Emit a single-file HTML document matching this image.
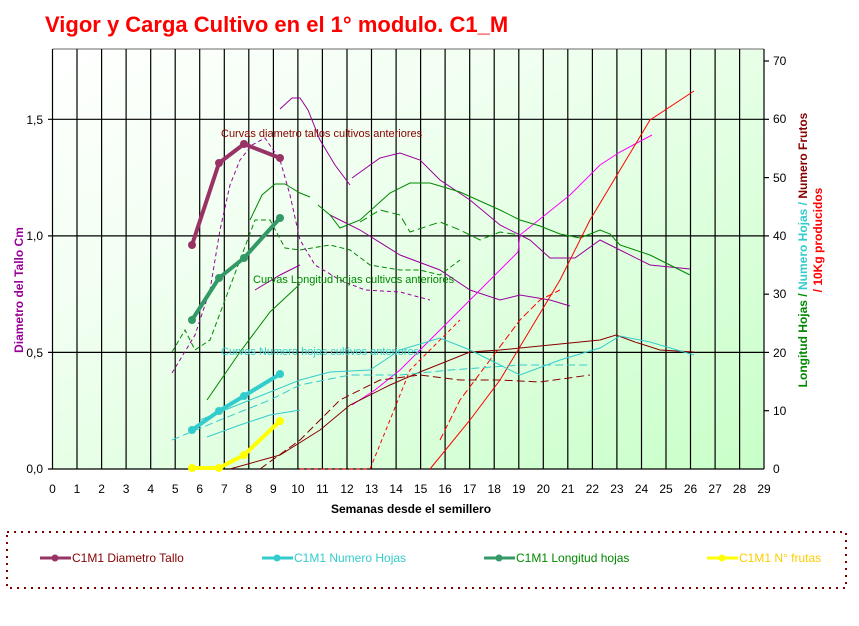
<!DOCTYPE html>
<html><head><meta charset="utf-8"><style>
html,body{margin:0;padding:0;background:#fff;}
svg{display:block;font-family:"Liberation Sans",sans-serif;}
</style></head><body>
<svg width="859" height="626" viewBox="0 0 859 626" xmlns="http://www.w3.org/2000/svg">
<defs>
<linearGradient id="bg" x1="0" y1="0" x2="1" y2="1">
<stop offset="0" stop-color="#ffffff"/><stop offset="0.35" stop-color="#f0fff0"/><stop offset="1" stop-color="#c8ffc8"/>
</linearGradient>
</defs>
<text x="45" y="32" font-size="22" font-weight="bold" fill="#ff0000">Vigor y Carga Cultivo en el 1° modulo. C1_M</text>
<rect x="52.5" y="49" width="711.5" height="420" fill="url(#bg)"/>
<g stroke="#000" stroke-width="1.2">
<line x1="52.5" y1="49" x2="764" y2="49" stroke="#888"/>
<line x1="77" y1="49" x2="77" y2="469"/><line x1="101.6" y1="49" x2="101.6" y2="469"/><line x1="126.1" y1="49" x2="126.1" y2="469"/><line x1="150.7" y1="49" x2="150.7" y2="469"/><line x1="175.2" y1="49" x2="175.2" y2="469"/><line x1="199.7" y1="49" x2="199.7" y2="469"/><line x1="224.3" y1="49" x2="224.3" y2="469"/><line x1="248.8" y1="49" x2="248.8" y2="469"/><line x1="273.4" y1="49" x2="273.4" y2="469"/><line x1="297.9" y1="49" x2="297.9" y2="469"/><line x1="322.4" y1="49" x2="322.4" y2="469"/><line x1="347" y1="49" x2="347" y2="469"/><line x1="371.5" y1="49" x2="371.5" y2="469"/><line x1="396.1" y1="49" x2="396.1" y2="469"/><line x1="420.6" y1="49" x2="420.6" y2="469"/><line x1="445.1" y1="49" x2="445.1" y2="469"/><line x1="469.7" y1="49" x2="469.7" y2="469"/><line x1="494.2" y1="49" x2="494.2" y2="469"/><line x1="518.8" y1="49" x2="518.8" y2="469"/><line x1="543.3" y1="49" x2="543.3" y2="469"/><line x1="567.8" y1="49" x2="567.8" y2="469"/><line x1="592.4" y1="49" x2="592.4" y2="469"/><line x1="616.9" y1="49" x2="616.9" y2="469"/><line x1="641.5" y1="49" x2="641.5" y2="469"/><line x1="666" y1="49" x2="666" y2="469"/><line x1="690.5" y1="49" x2="690.5" y2="469"/><line x1="715.1" y1="49" x2="715.1" y2="469"/><line x1="739.6" y1="49" x2="739.6" y2="469"/>
<line x1="48" y1="119.3" x2="764" y2="119.3"/><line x1="48" y1="235.9" x2="764" y2="235.9"/><line x1="48" y1="352.4" x2="764" y2="352.4"/><line x1="48" y1="469" x2="764" y2="469"/>
<line x1="52.5" y1="49" x2="52.5" y2="469"/><line x1="764" y1="49" x2="764" y2="469"/>
<line x1="764" y1="61" x2="769" y2="61"/><line x1="764" y1="119.3" x2="769" y2="119.3"/><line x1="764" y1="177.6" x2="769" y2="177.6"/><line x1="764" y1="235.9" x2="769" y2="235.9"/><line x1="764" y1="294.2" x2="769" y2="294.2"/><line x1="764" y1="352.4" x2="769" y2="352.4"/><line x1="764" y1="410.7" x2="769" y2="410.7"/>
</g>
<!-- background curves -->
<g fill="none" stroke-width="1">
<path d="M172,373 L195,335 L210,290 L220,230 L230,185 L240,160 L252,145 L265,138 L280,160 L290,195 L300,240 L315,265 L340,280 L365,290 L400,292 L430,300" stroke="#990099" stroke-dasharray="4,3"/>
<path d="M280,109 L292,98 L300,98 L308,110 L320,140 L335,165 L350,185 M352,178 L380,158 L400,153 L420,160 L440,180 L470,200 L500,225 L530,240 L550,258 L575,258 L600,240 L620,250 L650,265 L690,269" stroke="#990099"/>
<path d="M330,215 L360,230 L400,255 L440,270 L470,290 L500,300 L520,295 L550,300 L570,306" stroke="#990099"/>
<path d="M255,290 L280,275 L300,265" stroke="#990099"/>
<path d="M352,405 L375,390 L400,370 L430,340 L460,310 L490,280 L518,252 L520,235 L545,215 L570,195 L600,165 L620,152 L652,135" stroke="#ff00ff"/>
<path d="M250,220 L262,195 L275,184 L285,184 L300,193 L310,197 M318,205 L330,215 L340,228 L360,220 L390,193 L410,183 L430,183 L460,192 L500,210 L520,220 L540,226 L560,234 L580,238 L600,230 L610,234 L620,245 L650,255 L690,275" stroke="#008800"/>
<path d="M207,400 L240,352 L270,312 L300,284" stroke="#008800"/>
<path d="M172,352 L185,330 L195,350 L210,340 L225,300 L240,260 L255,220 L270,220 L285,248 L300,250 L330,245 L350,250 L370,265 L400,270 L420,270 L440,275 L460,260" stroke="#008800" stroke-dasharray="5,3"/>
<path d="M360,222 L380,210 L400,215 L410,232 L440,222 L460,230 L480,240 L500,232 L520,235" stroke="#008800" stroke-dasharray="8,4"/>
<path d="M430,469 L470,420 L500,380 L530,330 L560,280 L590,220 L620,170 L650,120 L694,91" stroke="#ff0000"/>
<path d="M300,469 L370,469 L390,420 L410,370 L440,340 L460,320" stroke="#ff0000" stroke-dasharray="4,3"/>
<path d="M440,440 L460,400 L490,360 L520,320 L540,300 L560,290" stroke="#ff0000" stroke-dasharray="7,3"/>
<path d="M230,469 L280,455 L320,430 L350,405 L390,385 L420,372 L470,352 L500,350 L550,345 L600,340 L616,335 L635,342 L660,350 L694,352" stroke="#880000"/>
<path d="M260,469 L300,440 L340,400 L380,380 L420,375 L460,380 L500,380 L540,382 L590,375" stroke="#880000" stroke-dasharray="8,4"/>
<path d="M200,420 L250,400 L300,380 L330,372 L370,370 L400,350 L440,338 L470,350 L500,365 L520,375 L560,360 L600,348 L620,336 L650,342 L694,355" stroke="#33cccc"/>
<path d="M172,440 L220,420 L270,400 L300,385 L350,375 L400,375 L450,370 L520,365 L590,365" stroke="#33cccc" stroke-dasharray="8,4"/>
<path d="M207,437 L240,425 L270,415 L300,410" stroke="#33cccc"/>
</g>
<!-- main series -->
<g fill="none" stroke-width="4" stroke-linejoin="round">
<path d="M192,245 L219,163 L244,144 L280,158" stroke="#993366"/>
<path d="M192,320 L219,278 L244,258 L280,218" stroke="#339966"/>
<path d="M192,430 L219,411 L244,396 L280,374" stroke="#33cccc"/>
<path d="M192,468 L219,468 L244,455 L280,421" stroke="#ffff00"/>
</g>
<g fill="#993366"><circle cx="192" cy="245" r="4"/><circle cx="219" cy="163" r="4"/><circle cx="244" cy="144" r="4"/><circle cx="280" cy="158" r="4"/></g>
<g fill="#339966"><circle cx="192" cy="320" r="4"/><circle cx="219" cy="278" r="4"/><circle cx="244" cy="258" r="4"/><circle cx="280" cy="218" r="4"/></g>
<g fill="#33cccc"><circle cx="192" cy="430" r="4"/><circle cx="219" cy="411" r="4"/><circle cx="244" cy="396" r="4"/><circle cx="280" cy="374" r="4"/></g>
<g fill="#ffff00"><circle cx="192" cy="468" r="4"/><circle cx="219" cy="468" r="4"/><circle cx="244" cy="455" r="4"/><circle cx="280" cy="421" r="4"/></g>
<g font-size="11">
<text x="221" y="137" fill="#880000">Curvas diametro tallos cultivos anteriores</text>
<text x="253" y="283" fill="#008800">Curvas Longitud hojas cultivos anteriores</text>
<text x="221" y="355" fill="#33cccc">Curvas Numero hojas cultivos anteriores</text>
</g>
<g font-size="12" fill="#000" text-anchor="end">
<text x="43" y="124">1,5</text><text x="43" y="240">1,0</text><text x="43" y="357">0,5</text><text x="43" y="473">0,0</text>
</g>
<g font-size="12" fill="#000">
<text x="773" y="65">70</text><text x="773" y="123">60</text><text x="773" y="182">50</text><text x="773" y="240">40</text><text x="773" y="298">30</text><text x="773" y="357">20</text><text x="773" y="415">10</text><text x="773" y="473">0</text>
</g>
<g font-size="12" fill="#000" text-anchor="middle">
<text x="52.5" y="493">0</text><text x="77" y="493">1</text><text x="101.6" y="493">2</text><text x="126.1" y="493">3</text><text x="150.7" y="493">4</text><text x="175.2" y="493">5</text><text x="199.7" y="493">6</text><text x="224.3" y="493">7</text><text x="248.8" y="493">8</text><text x="273.4" y="493">9</text><text x="297.9" y="493">10</text><text x="322.4" y="493">11</text><text x="347" y="493">12</text><text x="371.5" y="493">13</text><text x="396.1" y="493">14</text><text x="420.6" y="493">15</text><text x="445.1" y="493">16</text><text x="469.7" y="493">17</text><text x="494.2" y="493">18</text><text x="518.8" y="493">19</text><text x="543.3" y="493">20</text><text x="567.8" y="493">21</text><text x="592.4" y="493">22</text><text x="616.9" y="493">23</text><text x="641.5" y="493">24</text><text x="666" y="493">25</text><text x="690.5" y="493">26</text><text x="715.1" y="493">27</text><text x="739.6" y="493">28</text><text x="764" y="493">29</text>
</g>
<text x="411" y="513" font-size="12" font-weight="bold" text-anchor="middle" fill="#000">Semanas desde el semillero</text>
<text transform="translate(23,290) rotate(-90)" font-size="12" font-weight="bold" text-anchor="middle" fill="#990099">Diametro del Tallo Cm</text>
<text transform="translate(807,250) rotate(-90)" font-size="12" font-weight="bold" text-anchor="middle"><tspan fill="#008800">Longitud Hojas / </tspan><tspan fill="#33cccc">Numero Hojas / </tspan><tspan fill="#880000">Numero Frutos</tspan></text>
<text transform="translate(822,240) rotate(-90)" font-size="12" font-weight="bold" text-anchor="middle" fill="#ff0000">/ 10Kg producidos</text>
<rect x="7" y="532" width="839" height="56" fill="none" stroke="#800000" stroke-width="2" stroke-dasharray="2,5"/>
<g font-size="12">
<line x1="40" y1="558" x2="71" y2="558" stroke="#993366" stroke-width="3"/><circle cx="55" cy="558" r="3.5" fill="#993366"/><text x="72" y="562" fill="#880000">C1M1 Diametro Tallo</text>
<line x1="262" y1="558" x2="293" y2="558" stroke="#33cccc" stroke-width="3"/><circle cx="277" cy="558" r="3.5" fill="#33cccc"/><text x="294" y="562" fill="#33cccc">C1M1 Numero Hojas</text>
<line x1="484" y1="558" x2="515" y2="558" stroke="#339966" stroke-width="3"/><circle cx="499" cy="558" r="3.5" fill="#339966"/><text x="516" y="562" fill="#008800">C1M1 Longitud hojas</text>
<line x1="707" y1="558" x2="738" y2="558" stroke="#ffff00" stroke-width="3"/><circle cx="722" cy="558" r="3.5" fill="#ffff00"/><text x="739" y="562" fill="#ffcc00">C1M1 N° frutas</text>
</g>
</svg>
</body></html>
